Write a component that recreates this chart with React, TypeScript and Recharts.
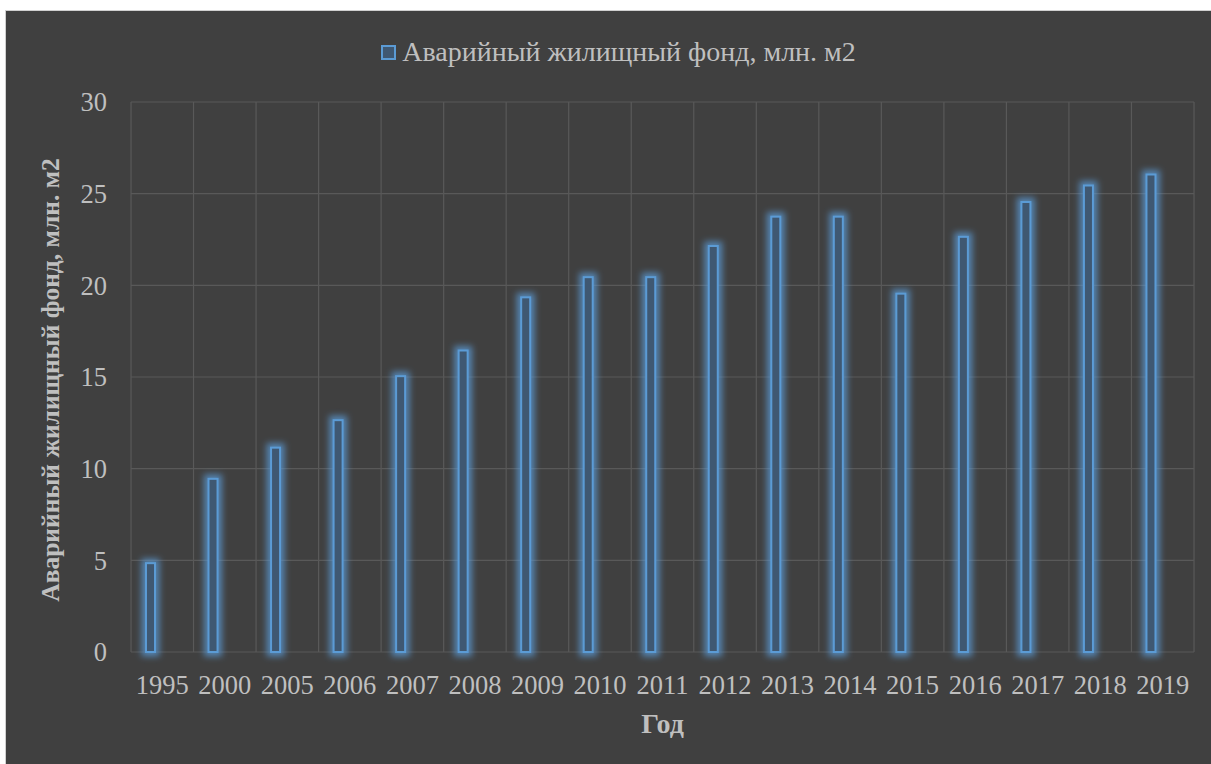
import React from 'react';
import { BarChart, Bar, XAxis, YAxis, CartesianGrid, Legend, Label } from 'recharts';

const years = ['1995', '2000', '2005', '2006', '2007', '2008', '2009', '2010', '2011', '2012', '2013', '2014', '2015', '2016', '2017', '2018', '2019'];
const values = [4.9, 9.5, 11.2, 12.7, 15.1, 16.5, 19.4, 20.5, 20.5, 22.2, 23.8, 23.8, 19.6, 22.7, 24.6, 25.5, 26.1];
const yTicks = [0, 5, 10, 15, 20, 25, 30];
const seriesName = 'Аварийный жилищный фонд, млн. м2';
const yTitle = 'Аварийный жилищный фонд, млн. м2';
const xTitle = 'Год';

const data = years.map((y, i) => ({ year: y, value: values[i] }));

const FONT = '"Liberation Serif", "Times New Roman", serif';
const TEXT = '#bfbfbf';
const BLUE = '#5b9bd5';
const FILL = '#3f5872';

const GlowBar = (props: any) => {
  const { x, y, width, height } = props;
  if (!height || height <= 0) return null;
  return (
    <g>
      <rect x={x + 1} y={y + 1} width={width - 2} height={height - 1} fill="none" stroke={BLUE} strokeWidth={9} strokeOpacity={0.75} filter="url(#glowBlur)" />
      <rect x={x + 1} y={y + 1} width={width - 2} height={height - 1} fill={FILL} stroke={BLUE} strokeWidth={2} />
    </g>
  );
};

const LegendContent = () => (
  <div style={{ display: 'flex', justifyContent: 'center', alignItems: 'center', fontFamily: FONT, fontSize: 28, color: TEXT, height: 30, paddingLeft: 20 }}>
    <span style={{ display: 'inline-block', width: 11, height: 11, border: `2px solid ${BLUE}`, background: FILL, marginRight: 6 }} />
    <span>{seriesName}</span>
  </div>
);

export default function App() {
  return (
    <div style={{ position: 'absolute', left: 5, top: 10, width: 1206, height: 754, boxSizing: 'border-box', borderLeft: '1px solid #d0d0d0', borderTop: '1px solid #d0d0d0', background: '#404040' }}>
      <svg width={0} height={0} style={{ position: 'absolute' }}>
        <defs>
          <filter id="glowBlur" x="-150%" y="-20%" width="400%" height="140%">
            <feGaussianBlur stdDeviation={3.2} />
          </filter>
        </defs>
      </svg>
      <BarChart width={1205} height={753} data={data} margin={{ top: 61, right: 17, bottom: 0, left: 0 }} barSize={11} barGap={12.5}>
        <CartesianGrid
          stroke="#595959"
          strokeWidth={1.2}
          verticalCoordinatesGenerator={({ offset }: any) =>
            Array.from({ length: years.length + 1 }, (_, i) => offset.left + (i * offset.width) / years.length)
          }
        />
        <XAxis
          dataKey="year"
          height={112}
          axisLine={false}
          tickLine={false}
          tickMargin={17}
          tick={{ fill: TEXT, fontSize: 26.5, fontFamily: FONT }}
          interval={0}
        >
          <Label
            content={({ viewBox }: any) => (
              <text x={viewBox.x + viewBox.width / 2} y={viewBox.y + 81} textAnchor="middle" fill={TEXT} fontFamily={FONT} fontSize={28} fontWeight="bold">
                {xTitle}
              </text>
            )}
          />
        </XAxis>
        <YAxis
          width={125}
          domain={[0, 30]}
          ticks={yTicks}
          axisLine={false}
          tickLine={false}
          tickMargin={18}
          tick={{ fill: TEXT, fontSize: 26.5, fontFamily: FONT }}
        >
          <Label
            content={({ viewBox }: any) => {
              const cx = viewBox.x + 44;
              const cy = viewBox.y + viewBox.height / 2;
              return (
                <text x={cx} y={cy + 3} transform={`rotate(-90 ${cx} ${cy + 3})`} textAnchor="middle" dominantBaseline="central" fill={TEXT} fontFamily={FONT} fontSize={25.5} fontWeight="bold">
                  {yTitle}
                </text>
              );
            }}
          />
        </YAxis>
        <Legend verticalAlign="top" content={<LegendContent />} wrapperStyle={{ top: 26, left: 0, width: 1205, height: 30 }} />
        <Bar dataKey="value" name={seriesName} shape={<GlowBar />} isAnimationActive={false} />
        <Bar dataKey="empty" name="" isAnimationActive={false} legendType="none" />
      </BarChart>
    </div>
  );
}
